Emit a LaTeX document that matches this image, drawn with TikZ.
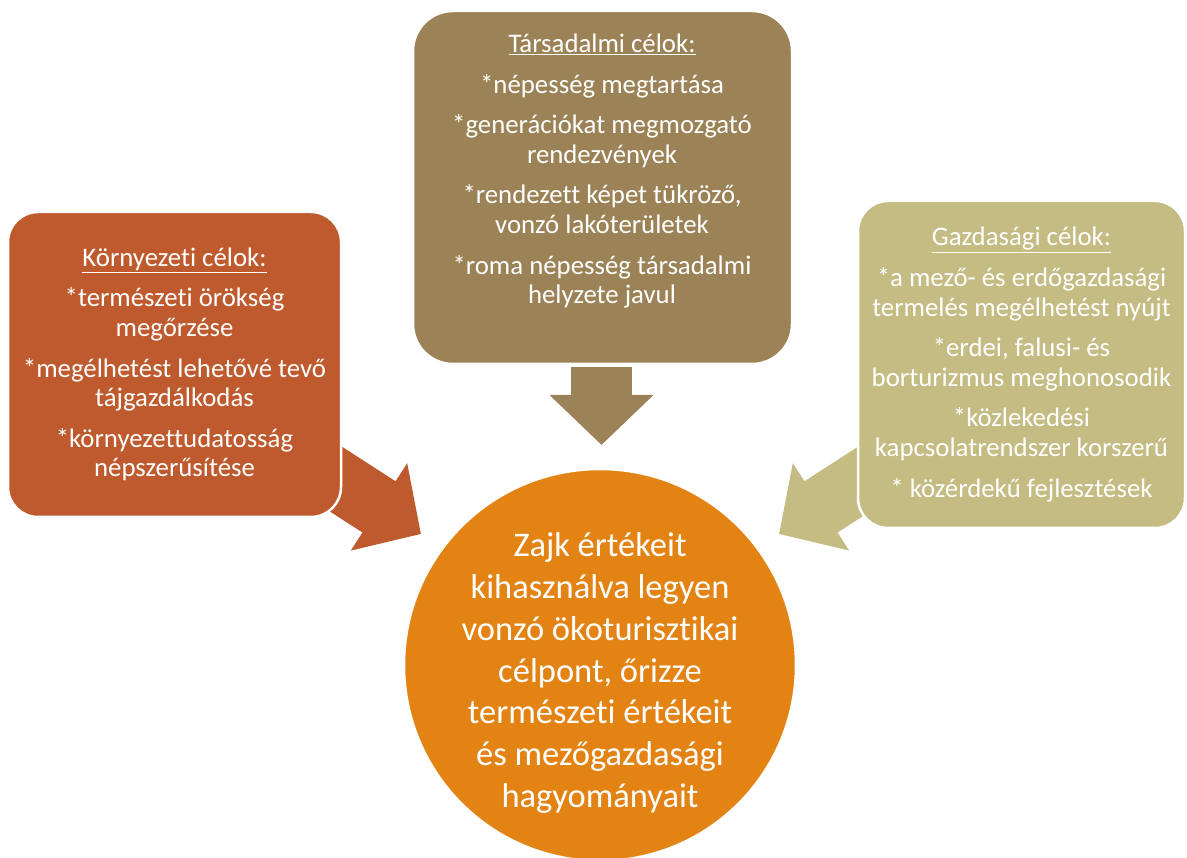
\documentclass[tikz,border=0pt]{standalone}
\usepackage{fontspec}
\setmainfont{Carlito}[Ligatures=NoCommon]
\usepackage{xcolor}
\usepackage{tikz}
\usetikzlibrary{arrows.meta, positioning}
\definecolor{korny}{HTML}{BE5A2D}
\definecolor{tars}{HTML}{9C8357}
\definecolor{gazd}{HTML}{C4BC82}
\definecolor{fokor}{HTML}{E38313}

\begin{document}
\begin{tikzpicture}[x=1pt, y=-1pt,
                celdoboz/.style={rectangle, rounded corners=30pt, draw=white, line width=2.5pt},
                szoveg/.style={text=white, align=center, font=\fontsize{26.8}{29.6}\selectfont},
                blokknyil/.style={line width=61pt, -{Triangle[length=50pt, width=101pt]}}]
        \useasboundingbox (0,0) rectangle (1187,858);

        %----------------  nyilak  ----------------
        \coordinate (korA) at (311,463);
        \coordinate (korB) at (421,534);
        \coordinate (tarA) at (601.5,367);
        \coordinate (tarB) at (601.5,445);
        \coordinate (gazA) at (889,463);
        \coordinate (gazB) at (779,534);
        \draw[blokknyil, korny] (korA) -- (korB);
        \draw[blokknyil, tars] (tarA) -- (tarB);
        \draw[blokknyil, gazd] (gazA) -- (gazB);

        %----------------  dobozok  ----------------
        \node[celdoboz, fill=korny, minimum width=333, minimum height=305] (kor) at (174.5,364.5) {};
        \node[szoveg] (kortext) at (kor.center) {\underline{Környezeti célok:}\\[11pt]
                *természeti örökség\\ megőrzése\\[11pt]
                *megélhetést lehetővé tevő\\ tájgazdálkodás\\[11pt]
                *környezettudatosság\\ népszerűsítése};

        \node[celdoboz, fill=tars, rounded corners=40pt, minimum width=379, minimum height=353] (tar) at (602.5,187.5) {};
        \node[szoveg] (tartext) at (602,171) {\underline{Társadalmi célok:}\\[11pt]
                *népesség megtartása\\[11pt]
                *generációkat megmozgató\\ rendezvények\\[11pt]
                *rendezett képet tükröző,\\ vonzó lakóterületek\\[11pt]
                *roma népesség társadalmi\\ helyzete javul};

        \node[celdoboz, fill=gazd, minimum width=327, minimum height=327] (gaz) at (1021.5,364.5) {};
        \node[szoveg] (gaztext) at (gaz.center) {\underline{Gazdasági célok:}\\[11pt]
                *a mező- és erdőgazdasági\\ termelés megélhetést nyújt\\[11pt]
                *erdei, falusi- és\\ borturizmus meghonosodik\\[11pt]
                *közlekedési\\ kapcsolatrendszer korszerű\\[11pt]
                * közérdekű fejlesztések};

        %----------------  kör  ----------------
        \node[circle, fill=fokor, draw=white, line width=2.5pt, minimum size=392] (cel) at (600,665) {};
        \node[text=white, align=center, font=\fontsize{34.5}{41.7}\selectfont] (celtext) at (600,673)
                {Zajk értékeit\\ kihasználva legyen\\ vonzó ökoturisztikai\\ célpont, őrizze\\ természeti értékeit\\ és mezőgazdasági\\ hagyományait};
\end{tikzpicture}
\end{document}
